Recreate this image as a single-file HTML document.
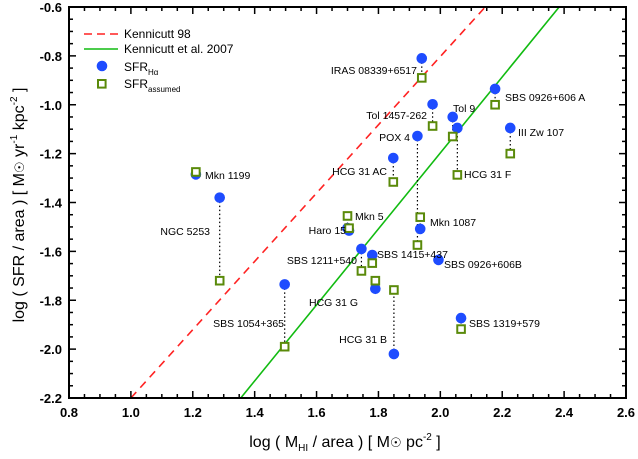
<!DOCTYPE html>
<html><head><meta charset="utf-8"><style>
html,body{margin:0;padding:0;background:#fff;}
svg{display:block;font-family:"Liberation Sans",Arial,sans-serif;}
</style></head><body>
<svg id="chart" width="638" height="459"></svg>
<script>
const names=["Mkn 1199","NGC 5253","SBS 1054+365","Haro 15","Mkn 5","SBS 1211+540","SBS 1415+437","HCG 31 G","HCG 31 B","HCG 31 AC","POX 4","Mkn 1087","IRAS 08339+6517","Tol 1457-262","Tol 9","HCG 31 F","SBS 0926+606 A","III Zw 107","SBS 0926+606B","SBS 1319+579"];
const logHI=[1.21,1.287,1.497,1.705,1.70,1.745,1.78,1.79,1.85,1.848,1.926,1.935,1.94,1.975,2.04,2.055,2.177,2.226,1.994,2.067];
const sfrHa=[-1.285,-1.38,-1.735,-1.515,-1.505,-1.59,-1.615,-1.753,-2.02,-1.218,-1.128,-1.508,-0.81,-0.998,-1.05,-1.095,-0.935,-1.095,-1.635,-1.873];
const sfrAssumed=[-1.275,-1.72,-1.99,-1.505,-1.455,-1.68,-1.648,-1.72,-1.758,-1.316,-1.574,-1.46,-0.89,-1.087,-1.13,-1.287,-1.0,-1.2,null,-1.918];
const xTicks=["0.8","1.0","1.2","1.4","1.6","1.8","2.0","2.2","2.4","2.6"];
const yTicks=["-0.6","-0.8","-1.0","-1.2","-1.4","-1.6","-1.8","-2.0","-2.2"];
const k98=[[1.0,-2.2],[2.145,-0.6]];
const k07=[[1.355,-2.2],[2.384,-0.6]];

const NS="http://www.w3.org/2000/svg";
const svg=document.getElementById('chart');
const L=69,R=626,T=7,B=398,xmin=0.8,xmax=2.6,ymin=-2.2,ymax=-0.6;
const X=v=>L+(v-xmin)/(xmax-xmin)*(R-L);
const Y=v=>B-(v-ymin)/(ymax-ymin)*(B-T);
function mk(tag,attrs,parent){const e=document.createElementNS(NS,tag);for(const k in attrs)e.setAttribute(k,attrs[k]);(parent||svg).appendChild(e);return e;}

// clip
const defs=mk('defs',{});
const cp=mk('clipPath',{id:'clip'},defs);
mk('rect',{x:L,y:T,width:R-L,height:B-T},cp);

// fit lines
const g=mk('g',{'clip-path':'url(#clip)'});
const l1=mk('line',{x1:X(k98[0][0]),y1:Y(k98[0][1]),x2:X(k98[1][0]),y2:Y(k98[1][1]),stroke:'#f22',"stroke-width":1.6,"stroke-dasharray":"8,6"},g);


const l2=mk('line',{x1:X(k07[0][0]),y1:Y(k07[0][1]),x2:X(k07[1][0]),y2:Y(k07[1][1]),stroke:'#1b1',"stroke-width":1.6},g);



// connectors
for(let i=0;i<names.length;i++){
  if(sfrAssumed[i]===null)continue;
  const c=mk('line',{x1:X(logHI[i]),x2:X(logHI[i]),y1:Y(sfrHa[i]),y2:Y(sfrAssumed[i]),stroke:'#000',"stroke-width":1.2,"stroke-dasharray":"1.5,2.5"});
  
  
}
// circles
for(let i=0;i<names.length;i++){
  const c=mk('circle',{cx:X(logHI[i]),cy:Y(sfrHa[i]),r:5.3,fill:'#1e4cff'});
  
  
}
// squares
for(let i=0;i<names.length;i++){
  if(sfrAssumed[i]===null)continue;
  const s=mk('rect',{x:X(logHI[i])-3.8,y:Y(sfrAssumed[i])-3.8,width:7.6,height:7.6,fill:'#fff',stroke:'#5a8a0a',"stroke-width":2});
  
  
}
// point labels (pixel positions)
const labs=[["Mkn 1199",205,179,"start"],["NGC 5253",210,235,"end"],["SBS 1054+365",284,327,"end"],["Haro 15",346,234,"end"],["Mkn 5",355,220,"start"],["SBS 1211+540",357,264,"end"],["SBS 1415+437",377,258,"start"],["HCG 31 G",358,306,"end"],["HCG 31 B",387,343,"end"],["HCG 31 AC",387,175,"end"],["POX 4",410,141,"end"],["Mkn 1087",430,226,"start"],["IRAS 08339+6517",417,74,"end"],["Tol 1457-262",427,119,"end"],["Tol 9",453,112,"start"],["HCG 31 F",464,178,"start"],["SBS 0926+606 A",505,101,"start"],["III Zw 107",518,136,"start"],["SBS 0926+606B",444,268,"start"],["SBS 1319+579",469,327,"start"]];
labs.forEach(l=>{const t=mk('text',{x:l[1],y:l[2],"font-size":10.5,"text-anchor":l[3],fill:'#000'});t.textContent=l[0];
  });

// axes frame
const fr=mk('rect',{x:L,y:T,width:R-L,height:B-T,fill:'none',stroke:'#000',"stroke-width":2});

// ticks
for(let v=0.8;v<=2.6001;v+=0.05){
  const maj=Math.abs(Math.round(v*5)-v*5)<1e-6, len=maj?7:4, x=X(v);
  mk('line',{x1:x,x2:x,y1:B,y2:B-len,stroke:'#000',"stroke-width":1.5});
  mk('line',{x1:x,x2:x,y1:T,y2:T+len,stroke:'#000',"stroke-width":1.5});
}
for(let v=-2.2;v<=-0.5999;v+=0.05){
  const maj=Math.abs(Math.round(v*5)-v*5)<1e-6, len=maj?7:4, y=Y(v);
  mk('line',{x1:L,x2:L+len,y1:y,y2:y,stroke:'#000',"stroke-width":1.5});
  mk('line',{x1:R,x2:R-len,y1:y,y2:y,stroke:'#000',"stroke-width":1.5});
}
xTicks.forEach(s=>{const t=mk('text',{x:X(parseFloat(s)),y:B+19,"font-size":13,"font-weight":"bold","text-anchor":"middle"});t.textContent=s;
  });
yTicks.forEach(s=>{const t=mk('text',{x:L-7,y:Y(parseFloat(s))+5,"font-size":13,"font-weight":"bold","text-anchor":"end"});t.textContent=s;
  });
</script>
<svg style="position:absolute;left:0;top:0" width="638" height="459">
<g font-family="Liberation Sans, Arial, sans-serif">
<text x="345" y="447" font-size="16" text-anchor="middle">log ( M<tspan font-size="10" dy="4">HI</tspan><tspan dy="-4"> / area )  [ M</tspan><tspan font-size="13">☉</tspan> pc<tspan font-size="10" dy="-7">-2</tspan><tspan dy="7"> ]</tspan></text>
<text transform="translate(24,205) rotate(-90)" font-size="16" text-anchor="middle">log ( SFR / area )  [ M<tspan font-size="13">☉</tspan> yr<tspan font-size="10" dy="-7">-1</tspan><tspan dy="7"> kpc</tspan><tspan font-size="10" dy="-7">-2</tspan><tspan dy="7"> ]</tspan></text>
<g>
<line x1="84" y1="34" x2="118" y2="34" stroke="#f22" stroke-width="1.6" stroke-dasharray="8,5"/>
<text x="124" y="38" font-size="12">Kennicutt 98</text>
<line x1="84" y1="49" x2="118" y2="49" stroke="#1b1" stroke-width="1.6"/>
<text x="124" y="53" font-size="12">Kennicutt et al. 2007</text>
<circle cx="102" cy="66" r="5.3" fill="#1e4cff"/>
<text x="124" y="71" font-size="12">SFR<tspan font-size="8" dy="4">Hα</tspan></text>
<rect x="98" y="80" width="7.6" height="7.6" fill="#fff" stroke="#5a8a0a" stroke-width="2"/>
<text x="124" y="88" font-size="12">SFR<tspan font-size="8" dy="4">assumed</tspan></text>
</g></g></svg>
</body></html>
